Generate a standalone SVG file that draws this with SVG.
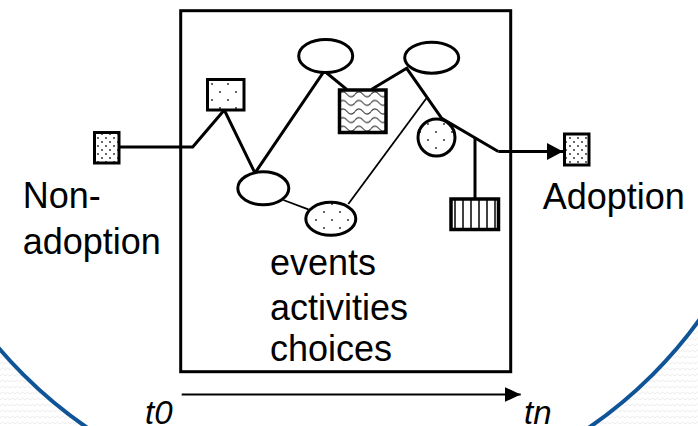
<svg xmlns="http://www.w3.org/2000/svg" width="698" height="426" viewBox="0 0 698 426">
<defs>
<style>
.ln{stroke:#000;stroke-width:3;fill:none;stroke-linejoin:miter}
.thin{stroke:#000;stroke-width:1.8;fill:none}
.nd{stroke:#000;stroke-width:3}
.lbl{font-family:"Liberation Sans",Arial,sans-serif;font-size:36px;fill:#000}
.it{font-style:italic;font-size:33px}
</style>
<pattern id="bg" width="10" height="6" patternUnits="userSpaceOnUse"><path d="M0 4 L2.5 2 L5 4 L7.5 2 L10 4" fill="none" stroke="#e6e6e6" stroke-width="0.8"/></pattern>
<pattern id="dots" width="16" height="16" patternUnits="userSpaceOnUse"><rect width="16" height="16" fill="#fff"/><circle cx="4" cy="4" r="1" fill="#333"/><circle cx="12" cy="12" r="1" fill="#333"/></pattern>
<pattern id="dense" width="8" height="8" patternUnits="userSpaceOnUse"><rect width="8" height="8" fill="#fff"/><circle cx="2" cy="2" r="0.9" fill="#222"/><circle cx="6" cy="6" r="0.9" fill="#222"/></pattern>
<pattern id="wave" x="339" y="90" width="16" height="8.6" patternUnits="userSpaceOnUse"><rect width="16" height="8.6" fill="#fff"/><path d="M0 4.3 C2.7 1 5.3 1 8 4.3 S13.3 7.6 16 4.3" fill="none" stroke="#333" stroke-width="1.1"/></pattern>
<pattern id="stripe" x="451" y="0" width="8" height="10" patternUnits="userSpaceOnUse"><rect width="8" height="10" fill="#fff"/><line x1="4" y1="0" x2="4" y2="10" stroke="#000" stroke-width="1.5"/></pattern>
<marker id="ah" markerWidth="16" markerHeight="17" refX="16" refY="8.5" orient="auto" markerUnits="userSpaceOnUse"><path d="M0 0 L16 8.5 L0 17 Z" fill="#000"/></marker>
<marker id="ah2" markerWidth="16" markerHeight="15" refX="16" refY="7.5" orient="auto" markerUnits="userSpaceOnUse"><path d="M0 0 L16 7.5 L0 15 Z" fill="#000"/></marker>
</defs>
<g id="background">
<rect width="698" height="426" fill="url(#bg)"/>
<circle cx="338" cy="60" r="445" fill="#fff" stroke="#0f5496" stroke-width="4"/>
</g>
<g id="frame">
<rect x="180.7" y="10.7" width="330" height="361" fill="none" stroke="#000" stroke-width="3"/>
</g>
<g id="connectors">
<polyline class="ln" points="119,147 192.7,147 224.3,110 255,173 324.3,71 346.7,89.3"/>
<polyline class="ln" points="371.7,89.3 406.7,68.3 441.7,118.3 498.3,151.5"/>
<line class="ln" x1="498.3" y1="151.5" x2="563" y2="151.5" marker-end="url(#ah)"/>
<line class="ln" x1="475" y1="137.4" x2="475" y2="198"/>
<line class="thin" x1="427" y1="97.5" x2="348.3" y2="204"/>
<line class="thin" x1="283.3" y1="200" x2="308.3" y2="209.3"/>
<line x1="181.7" y1="394.5" x2="520.7" y2="394.5" stroke="#000" stroke-width="2" marker-end="url(#ah2)"/>
</g>
<g id="non-adoption">
<rect class="nd" x="94.5" y="132.5" width="24.5" height="30.5" fill="url(#dense)"/>
<text class="lbl" x="22.7" y="208">Non-</text>
<text class="lbl" x="22.7" y="254">adoption</text>
</g>
<g id="adoption">
<rect class="nd" x="564.5" y="134" width="24.5" height="31" fill="url(#dense)"/>
<text class="lbl" x="542.7" y="209">Adoption</text>
</g>
<g id="node-dotted-rect"><rect class="nd" x="207.5" y="79.5" width="36.5" height="30.5" fill="url(#dots)"/></g>
<g id="node-ellipse-low"><ellipse class="nd" cx="263.3" cy="188.3" rx="25.5" ry="16.5" fill="#fff"/></g>
<g id="node-ellipse-top1"><ellipse class="nd" cx="325.7" cy="56" rx="27" ry="16.5" fill="#fff"/></g>
<g id="node-wave-rect"><rect x="339.5" y="90" width="46.5" height="42.5" fill="url(#wave)" stroke="#000" stroke-width="3.5"/></g>
<g id="node-ellipse-top2"><ellipse class="nd" cx="431.7" cy="57.7" rx="27" ry="15.5" fill="#fff"/></g>
<g id="node-dotted-circle"><circle class="nd" cx="436.5" cy="137.5" r="18.5" fill="url(#dots)"/></g>
<g id="node-dotted-ellipse"><ellipse class="nd" cx="330.8" cy="218.8" rx="25" ry="16.5" fill="url(#dots)"/></g>
<g id="node-striped-rect"><rect x="451" y="199" width="47.5" height="30.5" fill="url(#stripe)" stroke="#000" stroke-width="3.5"/></g>
<g id="labels">
<text class="lbl" x="270" y="275">events</text>
<text class="lbl" x="270" y="320">activities</text>
<text class="lbl" x="270" y="361">choices</text>
<text class="lbl it" x="145" y="424">t0</text>
<text class="lbl it" x="524" y="424">tn</text>
</g>
</svg>
